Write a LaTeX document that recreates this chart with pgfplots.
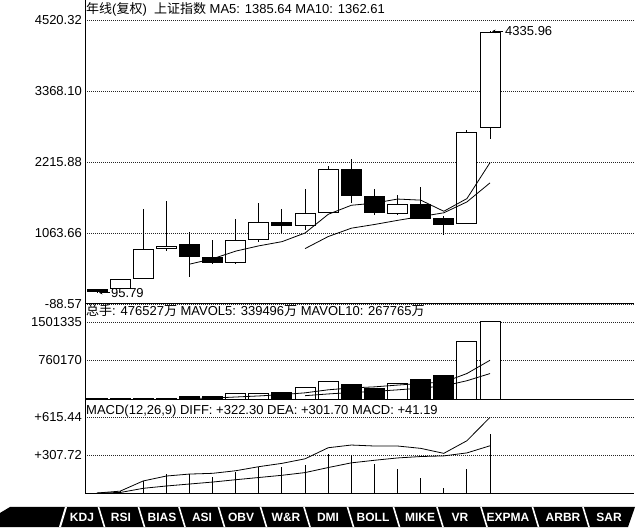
\documentclass[border=0pt]{standalone}
\usepackage{fontspec}
\setmainfont{Liberation Sans}
\newfontfamily\cjk{Noto Sans CJK SC}
\usepackage{pgfplots}
\usepackage{pgfplotstable}
\pgfplotsset{compat=1.18}
\usetikzlibrary{arrows.meta}
\newcommand\fs{\fontsize{13bp}{15bp}\selectfont}

\pgfplotstableread{
i o h l c
1 150 152 95.79 120
2 171 312 171 312
3 328 1448 328 799
4 809 1588 776 848
5 869 1085 354 679
6 658 950 556 588
7 588 1291 556 934
8 950 1546 917 1226
9 1231 1458 1059 1188
10 1188 1778 1112 1383
11 1400 2156 1400 2102
12 2102 2264 1546 1669
13 1664 1778 1356 1400
14 1383 1680 1356 1518
15 1518 1815 1296 1296
16 1291 1344 1026 1198
17 1210 2735 1205 2698
18 2768 4335.96 2584 4321
}\candles

\pgfplotstableread{
i vup vdn
1 0 32000
2 0 30000
3 0 30000
4 0 32000
5 0 66500
6 0 60000
7 123500 0
8 120000 0
9 0 149000
10 237500 0
11 351600 0
12 0 301000
13 0 225000
14 320000 0
15 0 396000
16 0 476527
17 1131000 0
18 1501335 0
}\vols

\pgfplotstableread{
i diff dea macd
1 0 0 0
2 15 4 15
3 98 38 100
4 138 57 155
5 154 73 155
6 160 89 133
7 181 108 168
8 214 126 214
9 241 144 214
10 278 166 228
11 368 207 317
12 390 245 309
13 382 266 236
14 382 285 195
15 363 296.5 120
16 322.3 301.7 41.19
17 425 326 195
18 615.44 384 480
}\macdtab

\pgfplotsset{
  panel/.style={
    anchor=south west, scale only axis, width=549bp,
    xmin=0.48097, xmax=24.2267,
    axis x line*=bottom, axis y line*=left,
    axis line style={-, black, line width=1bp},
    xtick=\empty, major tick length=0pt,
    scaled y ticks=false,
    ymajorgrids,
    grid style={black!85, line width=0.9bp, dash pattern=on 1bp off 1bp},
    yticklabel style={font=\fs, inner sep=0pt, xshift=-3bp},
    clip=false,
  },
  mainy/.style={at={(85bp,224bp)}, height=304bp, ymin=-88.57, ymax=4844.89},
  voly/.style={at={(85bp,128bp)}, height=96bp, ymin=0, ymax=1847800},
  macdy/.style={at={(85bp,35bp)}, height=93bp, ymin=0, ymax=756.1},
  over/.style={anchor=south west, scale only axis, width=549bp,
    xmin=0.48097, xmax=24.2267, hide axis, clip=false},
}

\begin{document}
\begin{tikzpicture}
\useasboundingbox (0,0) rectangle (640bp,528bp);

% ---------- main panel: grid, ticks, wicks
\begin{axis}[panel, mainy,
  ytick={-88.57,1063.66,2215.88,3368.10,4520.32},
  yticklabels={-88.57,1063.66,2215.88,3368.10,4520.32}]
\addplot[draw=none, mark=none,
  error bars/.cd, y dir=both, y explicit, error mark=none,
  error bar style={draw=black, solid, line width=1bp}]
  table[x=i, y expr={(\thisrow{h}+\thisrow{l})/2},
        y error expr={(\thisrow{h}-\thisrow{l})/2}]{\candles};
\end{axis}

% ---------- candle bodies
\begin{axis}[over, mainy, ybar stacked, bar width=20bp]
\addplot[draw=none, fill=none] table[x=i, y expr={min(\thisrow{o},\thisrow{c})}]{\candles};
\addplot[draw=black, fill=white, line width=1bp] table[x=i, y expr={max(\thisrow{c}-\thisrow{o},0)}]{\candles};
\addplot[draw=black, fill=black, line width=1bp] table[x=i, y expr={max(\thisrow{o}-\thisrow{c},0)}]{\candles};
\end{axis}

% ---------- MA lines and annotations
\begin{axis}[over, mainy]
\addplot[black, line width=0.8bp, mark=none] coordinates {
(5,557.6)(6,645.2)(7,769.6)(8,855)(9,923)(10,1063.8)(11,1366.6)(12,1513.6)
(13,1548.4)(14,1614.4)(15,1597)(16,1416.2)(17,1622)(18,2206.2)};
\addplot[black, line width=0.8bp, mark=none] coordinates {
(10,810.7)(11,1005.9)(12,1141.6)(13,1201.7)(14,1268.7)(15,1330.4)(16,1391.4)
(17,1567.8)(18,1877.3)};
\draw[black, line width=0.8bp, -{Stealth[length=3.5bp,width=3.5bp]}]
  ([xshift=13bp]axis cs:1,95.79) -- ([xshift=2bp]axis cs:1,95.79);
\node[anchor=west, inner sep=0pt, font=\fs] at ([xshift=14bp]axis cs:1,95.79) {95.79};
\draw[black, line width=0.8bp, -{Stealth[length=3.5bp,width=3.5bp]}]
  ([xshift=13bp]axis cs:18,4335.96) -- ([xshift=2bp]axis cs:18,4335.96);
\node[anchor=west, inner sep=0pt, font=\fs] at ([xshift=15bp]axis cs:18,4335.96) {4335.96};
\end{axis}

% ---------- volume panel
\begin{axis}[panel, voly,
  ytick={760170,1501335}, yticklabels={760170,1501335}]
\addplot[ybar, bar width=20bp, bar shift=0pt, draw=black, fill=white, line width=1bp]
  table[x=i, y=vup]{\vols};
\addplot[ybar, bar width=20bp, bar shift=0pt, draw=black, fill=black, line width=1bp]
  table[x=i, y=vdn]{\vols};
\addplot[black, line width=0.8bp, mark=none] coordinates {
(5,28500)(6,36500)(7,57600)(8,78000)(9,103800)(10,138000)(11,196300)(12,231800)
(13,252800)(14,287000)(15,318700)(16,343700)(17,509700)(18,765000)};
\addplot[black, line width=0.8bp, mark=none] coordinates {
(10,83250)(11,116400)(12,144700)(13,165400)(14,195400)(15,228400)(16,270000)
(17,370800)(18,508900)};
\end{axis}

% ---------- MACD panel
\begin{axis}[panel, macdy,
  ytick={307.72,615.44}, yticklabels={+307.72,+615.44}]
\addplot[ycomb, black, line width=1bp, mark=none] table[x=i, y=macd]{\macdtab};
\addplot[black, line width=0.8bp, mark=none] table[x=i, y=diff]{\macdtab};
\addplot[black, line width=0.8bp, mark=none] table[x=i, y=dea]{\macdtab};
\end{axis}

% ---------- panel titles
\node[anchor=base west, inner sep=0pt, font=\fs] at (86bp,514bp)
  {{\cjk 年线}({\cjk 复权})\ \ {\cjk 上证指数} MA5: 1385.64 MA10: 1362.61};
\node[anchor=base west, inner sep=0pt, font=\fs] at (86bp,212bp)
  {{\cjk 总手}: 476527{\cjk 万} MAVOL5: 339496{\cjk 万} MAVOL10: 267765{\cjk 万}};
\node[anchor=base west, inner sep=0pt, font=\fs] at (86bp,113.5bp)
  {MACD(12,26,9) DIFF: +322.30 DEA: +301.70 MACD: +41.19};

% ---------- indicator tab bar
\fill[black] (0bp,1bp) -- (0bp,15bp) -- (10bp,21bp) -- (635bp,21bp) -- (628bp,1bp) -- cycle;
\draw[white, line width=2bp] (60bp,1bp) -- (66bp,21bp);
\foreach \s in {101.5,141.5,182,221.5,263.5,307,350.5,396.5,440,484,535.5,586}
  \draw[white, line width=1.6bp] (\s bp-3bp,21bp) -- (\s bp+3bp,1bp);
\foreach \x/\t in {82/KDJ,121/RSI,162/BIAS,202/ASI,241/OBV,286/W\&R,328/DMI,373/BOLL,420/MIKE,460/VR,508/EXPMA,563/ARBR,609/SAR}
  \node[white, inner sep=0pt, font=\bfseries\fontsize{12bp}{12bp}\selectfont] at (\x bp,11bp) {\t};
\end{tikzpicture}
\end{document}
